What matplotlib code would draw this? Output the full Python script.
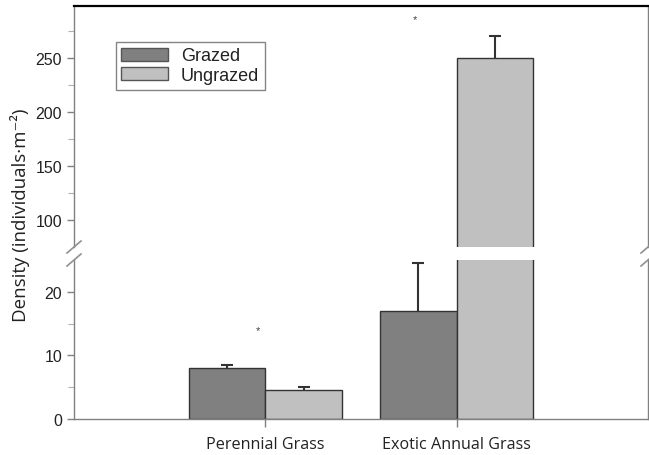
import matplotlib
matplotlib.use("Agg")
import matplotlib.pyplot as plt
from matplotlib.patches import Patch
import numpy as np

categories = ["Perennial Grass", "Exotic Annual Grass"]
groups = ["Grazed", "Ungrazed"]
grazed = [8.0, 17.0]
ungrazed = [4.5, 250.0]
grazed_err = [0.5, 7.5]
ungrazed_err = [0.5, 20.0]
star_x = [-0.04, 0.78]
star_y = [14.0, 286.0]

colors = ["#808080", "#c0c0c0"]
spine_grey = "#808080"
text_col = "#222222"
label_font = ["Open Sans", "DejaVu Sans"]

plt.rcParams["font.family"] = ["Liberation Sans", "DejaVu Sans"]

fig = plt.figure(figsize=(6.49, 4.56), dpi=100)
W, H = 649, 456

def fig_box(x0, y0, x1, y1):
    return [x0 / W, 1 - y1 / H, (x1 - x0) / W, (y1 - y0) / H]

ax_top = fig.add_axes(fig_box(74, 7, 648, 248))
ax_bot = fig.add_axes(fig_box(74, 261, 648, 420))

x = np.arange(len(categories))
width = 0.4

def draw_bars(ax, pos, vals, errs, color):
    cont = ax.bar(pos, vals, width, color=color, edgecolor="#333333",
                  linewidth=1.0, yerr=[np.zeros(len(vals)), errs], capsize=4,
                  error_kw=dict(ecolor="#333333", elinewidth=1.5, capthick=1.5),
                  zorder=2)
    # keep only the upper caps of the one-sided error bars
    caps = cont.errorbar.lines[1]
    if len(caps) == 2:
        caps[0].set_visible(False)

for ax in (ax_top, ax_bot):
    draw_bars(ax, x - width / 2, grazed, grazed_err, colors[0])
    draw_bars(ax, x + width / 2, ungrazed, ungrazed_err, colors[1])
    ax.set_xlim(-1.0, 2.0)
    for s in ax.spines.values():
        s.set_color(spine_grey)
        s.set_linewidth(1.0)
    ax.tick_params(axis="y", colors=spine_grey, labelcolor=text_col, labelsize=11.5,
                   length=5, width=1.0)
    ax.tick_params(axis="y", which="minor", colors="#b0b0b0", length=4, width=0.8)

ax_top.set_ylim(75, 298)
ax_top.set_yticks([100, 150, 200, 250])
ax_top.set_yticks([125, 175, 225, 275], minor=True)
ax_top.spines["bottom"].set_visible(False)
ax_top.spines["top"].set_color("black")
ax_top.spines["top"].set_linewidth(1.6)
ax_top.set_xticks([])

ax_bot.set_ylim(0, 25)
ax_bot.set_yticks([0, 10, 20])
ax_bot.set_yticks([5, 15], minor=True)
ax_bot.spines["top"].set_visible(False)
ax_bot.set_xticks(x)
ax_bot.set_xticklabels(categories, family=label_font, fontsize=11.6, color=text_col)
ax_bot.tick_params(axis="x", colors=spine_grey, labelcolor=text_col,
                   length=6, width=1.0, pad=6)

# significance stars
ax_bot.text(star_x[0], star_y[0], "*", ha="center", va="center",
            fontsize=8, color="#444444")
ax_top.text(star_x[1], star_y[1], "*", ha="center", va="center",
            fontsize=8, color="#444444")

# axis break marks on both sides
for xb in (74, 648):
    for yb in (248, 261):
        fig.add_artist(plt.Line2D([(xb - 7) / W, (xb + 7) / W],
                                  [1 - (yb + 6) / H, 1 - (yb - 6) / H],
                                  color="#909090", linewidth=1.2))

fig.text(20 / W, 1 - 215 / H, "Density (individuals\u00b7m\u207b\u00b2)",
         rotation=90, ha="center", va="center", fontsize=13.5,
         family=label_font, color=text_col)

handles = [Patch(facecolor=colors[0], edgecolor="#555555", linewidth=1.0),
           Patch(facecolor=colors[1], edgecolor="#555555", linewidth=1.0)]
leg = fig.legend(handles, groups, loc="upper left",
                 bbox_to_anchor=(116 / W, 1 - 43 / H), fontsize=13,
                 frameon=True, fancybox=False, edgecolor="#666666",
                 handlelength=2.6, handleheight=0.75, handletextpad=0.7,
                 borderpad=0.3, labelspacing=0.15, borderaxespad=0)
leg.get_frame().set_linewidth(1.0)
for t in leg.get_texts():
    t.set_color(text_col)

fig.savefig("out.png", dpi=100)
